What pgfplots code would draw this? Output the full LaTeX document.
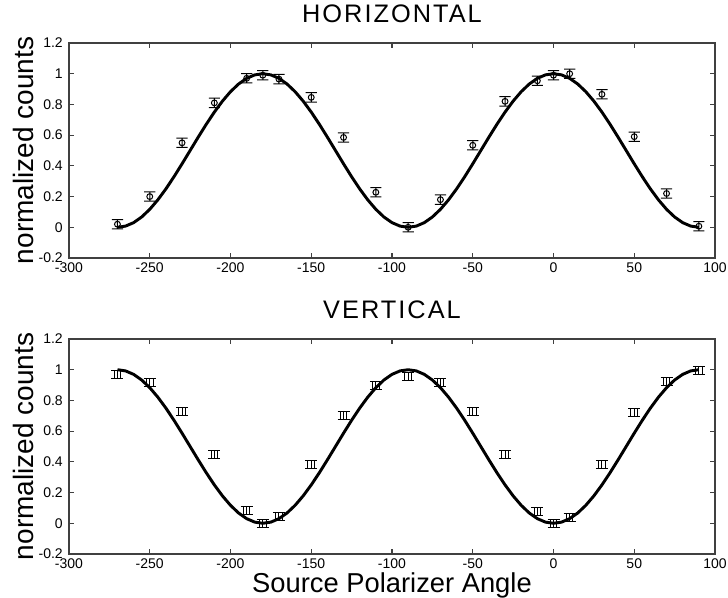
\documentclass[border=0pt]{standalone}
\usepackage{fontspec}
\setmainfont{Liberation Sans}
\newfontfamily\titlefont[LetterSpace=8]{Liberation Sans}
\usepackage{pgfplots}
\pgfplotsset{compat=1.18}

\pgfdeclareplotmark{hmk}{%
  \pgfpathcircle{\pgfpoint{0pt}{0pt}}{2.2pt}%
  \pgfpathmoveto{\pgfpoint{-4.2pt}{3.5pt}}\pgfpathlineto{\pgfpoint{4.2pt}{3.5pt}}%
  \pgfpathmoveto{\pgfpoint{-4.2pt}{-3.5pt}}\pgfpathlineto{\pgfpoint{4.2pt}{-3.5pt}}%
  \pgfpathmoveto{\pgfpoint{0pt}{-3.5pt}}\pgfpathlineto{\pgfpoint{0pt}{3.5pt}}%
  \pgfusepathqstroke}
\pgfdeclareplotmark{vmk}{%
  \pgfpathmoveto{\pgfpoint{-4.5pt}{3pt}}\pgfpathlineto{\pgfpoint{4.5pt}{3pt}}%
  \pgfpathmoveto{\pgfpoint{-4.5pt}{-3pt}}\pgfpathlineto{\pgfpoint{4.5pt}{-3pt}}%
  \pgfpathmoveto{\pgfpoint{-2.5pt}{-3pt}}\pgfpathlineto{\pgfpoint{-2.5pt}{3pt}}%
  \pgfpathmoveto{\pgfpoint{0pt}{-3pt}}\pgfpathlineto{\pgfpoint{0pt}{3pt}}%
  \pgfpathmoveto{\pgfpoint{2.5pt}{-3pt}}\pgfpathlineto{\pgfpoint{2.5pt}{3pt}}%
  \pgfusepathqstroke}

\pgfplotsset{
  panel/.style={
    scale only axis, width=484.5pt, height=161.25pt,
    xmin=-300, xmax=100, ymin=-0.2, ymax=1.2,
    xtick={-300,-250,...,100},
    ytick={-0.2,0,0.2,0.4,0.6,0.8,1,1.2},
    yticklabels={-0.2,0,0.2,0.4,0.6,0.8,1,1.2},
    xticklabels={-300,-250,-200,-150,-100,-50,0,50,100},
    tick align=inside, major tick length=3.75pt,
    axis line style={line width=0.8pt, black!75},
    every tick/.style={line width=0.8pt, black!75},
    tick label style={font=\fontsize{10.5}{12}\selectfont},
    xticklabel style={anchor=north, inner sep=0pt, yshift=-3.2pt},
    yticklabel style={anchor=east, inner sep=0pt, xshift=-4.5pt},
    /pgf/number format/assume math mode=true,
    ylabel={normalized counts},
    ylabel style={font=\fontsize{21}{24}\selectfont, at={(axis description cs:-0.0557,0.5)}, anchor=base},
    title style={font=\titlefont\fontsize{19}{24}\selectfont, anchor=base, inner sep=0pt, at={(axis description cs:0.5,1.06)}},
    clip=false,
  },
  curve/.style={black, line width=2.2pt, no markers, line join=round},
  pts/.style={black, only marks, line width=0.75pt, mark options={solid, fill=none}},
}

\begin{document}
\begin{tikzpicture}[x=1pt,y=1pt]
\useasboundingbox (0,0) rectangle (546,447.75);

% ---------- HORIZONTAL ----------
\begin{axis}[panel, at={(51.75pt,254.25pt)}, anchor=south west,
  title={HORIZONTAL}]
\addplot[curve] table {
-270 0
-265 0.0076
-260 0.0302
-255 0.0670
-250 0.1170
-245 0.1786
-240 0.25
-235 0.3290
-230 0.4132
-225 0.5
-220 0.5868
-215 0.6710
-210 0.75
-205 0.8214
-200 0.8830
-195 0.9330
-190 0.9698
-185 0.9924
-180 1
-175 0.9924
-170 0.9698
-165 0.9330
-160 0.8830
-155 0.8214
-150 0.75
-145 0.6710
-140 0.5868
-135 0.5
-130 0.4132
-125 0.3290
-120 0.25
-115 0.1786
-110 0.1170
-105 0.0670
-100 0.0302
-95 0.0076
-90 0
-85 0.0076
-80 0.0302
-75 0.0670
-70 0.1170
-65 0.1786
-60 0.25
-55 0.3290
-50 0.4132
-45 0.5
-40 0.5868
-35 0.6710
-30 0.75
-25 0.8214
-20 0.8830
-15 0.9330
-10 0.9698
-5 0.9924
0 1
5 0.9924
10 0.9698
15 0.9330
20 0.8830
25 0.8214
30 0.75
35 0.6710
40 0.5868
45 0.5
50 0.4132
55 0.3290
60 0.25
65 0.1786
70 0.1170
75 0.0670
80 0.0302
85 0.0076
90 0
};
\addplot[pts, mark=hmk] table {
-270 0.02
-250 0.20
-230 0.55
-210 0.81
-190 0.97
-180 0.99
-170 0.965
-150 0.846
-130 0.585
-110 0.228
-90 0.0
-70 0.18
-50 0.534
-30 0.82
-10 0.954
0 0.99
10 1.0
30 0.866
50 0.59
70 0.22
90 0.007
};
\end{axis}

% ---------- VERTICAL ----------
\begin{axis}[panel, at={(51.75pt,32.25pt)}, anchor=south west,
  title={VERTICAL},
  xlabel={Source Polarizer Angle},
  xlabel style={font=\fontsize{20.5}{24}\selectfont, at={(axis description cs:0.5,-0.179)}, anchor=base, inner sep=0pt}]
\addplot[curve] table {
-270 1
-265 0.9924
-260 0.9698
-255 0.9330
-250 0.8830
-245 0.8214
-240 0.75
-235 0.6710
-230 0.5868
-225 0.5
-220 0.4132
-215 0.3290
-210 0.25
-205 0.1786
-200 0.1170
-195 0.0670
-190 0.0302
-185 0.0076
-180 0
-175 0.0076
-170 0.0302
-165 0.0670
-160 0.1170
-155 0.1786
-150 0.25
-145 0.3290
-140 0.4132
-135 0.5
-130 0.5868
-125 0.6710
-120 0.75
-115 0.8214
-110 0.8830
-105 0.9330
-100 0.9698
-95 0.9924
-90 1
-85 0.9924
-80 0.9698
-75 0.9330
-70 0.8830
-65 0.8214
-60 0.75
-55 0.6710
-50 0.5868
-45 0.5
-40 0.4132
-35 0.3290
-30 0.25
-25 0.1786
-20 0.1170
-15 0.0670
-10 0.0302
-5 0.0076
0 0
5 0.0076
10 0.0302
15 0.0670
20 0.1170
25 0.1786
30 0.25
35 0.3290
40 0.4132
45 0.5
50 0.5868
55 0.6710
60 0.75
65 0.8214
70 0.8830
75 0.9330
80 0.9698
85 0.9924
90 1
};
\addplot[pts, mark=vmk] table {
-270 0.97
-250 0.92
-230 0.725
-210 0.445
-190 0.085
-180 0.0
-170 0.045
-150 0.385
-130 0.70
-110 0.90
-90 0.955
-70 0.915
-50 0.73
-30 0.445
-10 0.075
0 0.0
10 0.035
30 0.385
50 0.72
70 0.925
90 0.995
};
\end{axis}
\end{tikzpicture}
\end{document}
